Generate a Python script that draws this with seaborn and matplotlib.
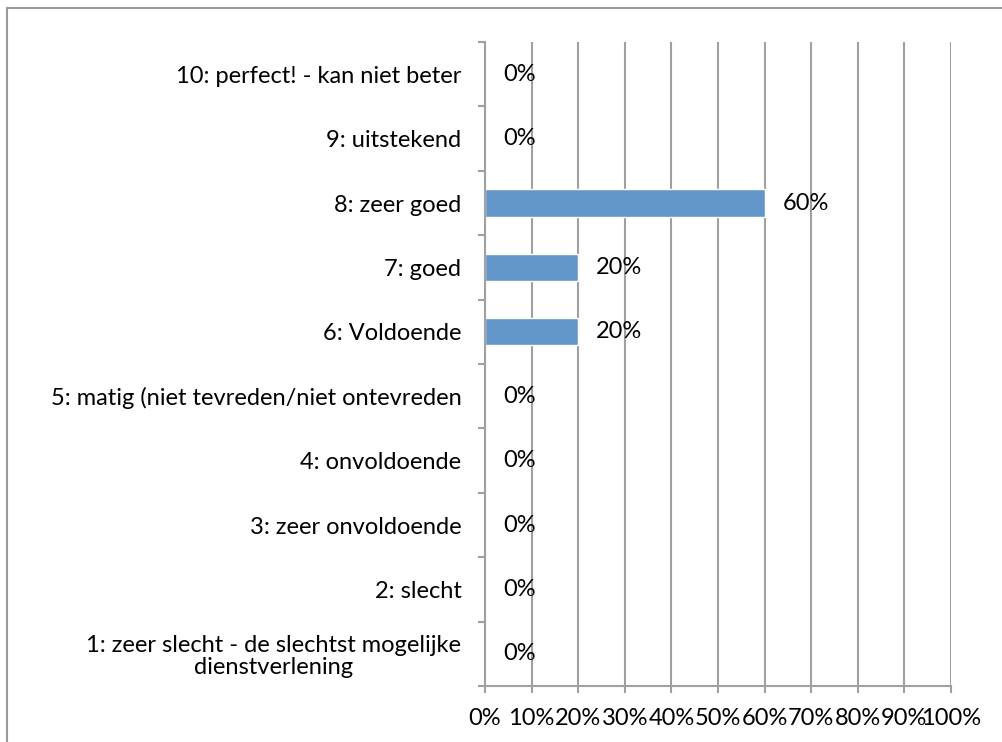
import matplotlib
matplotlib.use("Agg")
import matplotlib.pyplot as plt
import seaborn as sns
import pandas as pd
from matplotlib.ticker import PercentFormatter
from matplotlib.lines import Line2D

categories = [
    "10: perfect! - kan niet beter",
    "9: uitstekend",
    "8: zeer goed",
    "7: goed",
    "6: Voldoende",
    "5: matig (niet tevreden/niet ontevreden",
    "4: onvoldoende",
    "3: zeer onvoldoende",
    "2: slecht",
    "1: zeer slecht - de slechtst mogelijke\ndienstverlening",
]
values = [0, 0, 60, 20, 20, 0, 0, 0, 0, 0]
value_labels = ["0%", "0%", "60%", "20%", "20%", "0%", "0%", "0%", "0%", "0%"]
x_ticks = [0, 10, 20, 30, 40, 50, 60, 70, 80, 90, 100]

sns.set_theme(style="white")
plt.rcParams["font.family"] = ["Lato", "DejaVu Sans"]

df = pd.DataFrame({"cat": categories, "val": values})

fig = plt.figure(figsize=(10.02, 7.42), dpi=100)
ax = fig.add_axes([485 / 1002, 1 - 686 / 742, (951 - 485) / 1002, (686 - 42) / 742])

sns.barplot(data=df, x="val", y="cat", order=categories, color="#6497C9",
            width=0.42, orient="h", ax=ax, saturation=1)

ax.set_xlim(0, 100)
ax.set_ylim(len(categories) - 0.5, -0.5)
ax.set_xticks(x_ticks)
ax.xaxis.set_major_formatter(PercentFormatter(100, decimals=0))
ax.set_xlabel("")
ax.set_ylabel("")

grid_col = "#A0A0A0"
ax.grid(axis="x", color=grid_col, linewidth=1.5)
ax.set_axisbelow(True)
for s in ["top", "right"]:
    ax.spines[s].set_visible(False)
for s in ["left", "bottom"]:
    ax.spines[s].set_color(grid_col)
    ax.spines[s].set_linewidth(1.5)

fs = 17
ax.set_yticks(range(len(categories)))
ax.set_yticklabels(categories, multialignment="center", linespacing=1.05)
ax.set_yticks([i - 0.5 for i in range(len(categories) + 1)], minor=True)
ax.tick_params(axis="y", which="major", length=0, pad=17, labelsize=fs, labelcolor="black")
ax.tick_params(axis="y", which="minor", left=True, length=5, width=1.5, color=grid_col)
ax.tick_params(axis="x", which="major", bottom=True, length=5, width=1.5, color=grid_col,
               pad=11, labelsize=fs, labelcolor="black")

ax.bar_label(ax.containers[0], labels=value_labels, padding=13, fontsize=fs, color="black")

# figure border (top and left)
fig.add_artist(Line2D([7 / 1002, 7 / 1002], [0, 1 - 8 / 742], transform=fig.transFigure,
                      color="#9A9A9A", linewidth=1.5))
fig.add_artist(Line2D([7 / 1002, 1], [1 - 8 / 742, 1 - 8 / 742], transform=fig.transFigure,
                      color="#9A9A9A", linewidth=1.5))

fig.savefig("out.png", dpi=100)
